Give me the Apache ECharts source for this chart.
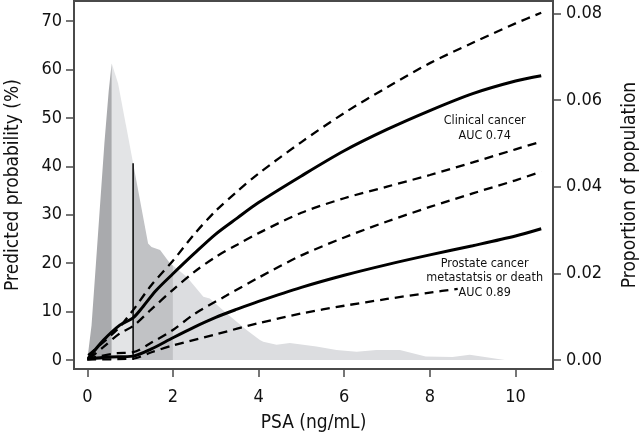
<!DOCTYPE html>
<html><head><meta charset="utf-8">
<script src="https://cdn.jsdelivr.net/npm/echarts@6/dist/echarts.min.js"></script>
<style>html,body{margin:0;padding:0;background:#fff}#c{width:640px;height:433px}</style>
</head><body><div id="c"></div>
<script>
// ---- data ----
var xTicks = [0, 2, 4, 6, 8, 10];
var probTicks = [0, 10, 20, 30, 40, 50, 60, 70];
var propTicks = [0, 0.02, 0.04, 0.06, 0.08];

// PSA distribution (proportion of population)
var distribution = [
  [0, 0], [0.1, 0.008], [0.2, 0.022], [0.3, 0.036], [0.4, 0.05], [0.5, 0.062], [0.57, 0.0685],
  [0.72, 0.0638], [1.07, 0.0454], [1.42, 0.0269], [1.5, 0.0261], [1.7, 0.0254], [1.93, 0.0223],
  [2.0, 0.0218], [2.32, 0.0192], [2.71, 0.0146], [2.86, 0.0142], [3.25, 0.0108], [3.72, 0.0069],
  [4.03, 0.0046], [4.11, 0.0042], [4.42, 0.0035], [4.73, 0.0039], [5.35, 0.0031], [5.82, 0.0023],
  [6.29, 0.0019], [6.75, 0.0023], [7.3, 0.0023], [7.9, 0.0008], [8.53, 0.0007], [8.93, 0.0012],
  [9.4, 0.0005], [9.75, 0]
];
var bandDark1 = [0, 0.57];
var bandLight1 = [0.57, 1.07];
var bandDark2 = [1.07, 2.0];
var bandLight2 = [2.0, 9.75];
var cutoffLine = [[1.07, 0], [1.07, 0.0454]];

// Clinical cancer (AUC 0.74)
var clinical = [[0.02, 0.3], [0.38, 4.1], [0.76, 7.2], [1.07, 8.7], [1.3, 11], [1.6, 14.3], [2, 17.8], [2.5, 22], [3, 26], [3.5, 29.3], [4, 32.5], [5, 38], [6, 43.2], [7, 47.6], [8, 51.5], [9, 55], [10, 57.6], [10.6, 58.7]];
var clinicalUpper = [[0.02, 1.0], [0.69, 6.2], [1.07, 10.3], [1.5, 15.5], [2, 20.5], [2.5, 26], [3, 30.8], [3.5, 34.8], [4, 38.5], [5, 45], [6, 51], [7, 56.3], [8, 61.3], [9, 65.5], [10, 69.5], [10.6, 71.7]];
var clinicalLower = [[0.05, 0.3], [0.38, 2.7], [0.76, 5.5], [1.07, 7], [1.5, 10.5], [2, 14.5], [2.5, 18.2], [3, 21.3], [3.5, 23.8], [4, 26.2], [5, 30.4], [6, 33.4], [7, 35.8], [8, 38.2], [9, 40.8], [10, 43.5], [10.6, 45.1]];

// Prostate cancer metastasis or death (AUC 0.89)
var metastasis = [[0, 0.2], [0.5, 0.6], [1.07, 0.8], [1.5, 2.3], [2, 4.6], [2.5, 6.8], [3, 8.8], [3.5, 10.5], [4, 12.1], [5, 15.0], [6, 17.5], [7, 19.7], [8, 21.7], [9, 23.6], [10, 25.6], [10.6, 27.1]];
var metastasisUpper = [[0, 0.2], [0.3, 0.8], [0.7, 1.4], [1.07, 1.6], [1.5, 3.6], [2, 6.2], [2.5, 9.5], [3.25, 13.3], [4, 17], [5, 21.6], [6, 25.3], [7, 28.6], [8, 31.6], [9, 34.4], [10, 37.1], [10.6, 38.9]];
var metastasisLower = [[0, 0.1], [1.07, 0.3], [1.5, 1.6], [2, 3.0], [3, 5.3], [4, 7.6], [5, 9.6], [6, 11.2], [7, 12.6], [8, 13.9], [8.65, 14.7]];

var labelClinical = {coord: [9.28, 47.9], text: 'Clinical cancer\nAUC 0.74'};
var labelMet = {coord: [9.28, 16.9], text: 'Prostate cancer\nmetastatsis or death\nAUC 0.89'};

// ---- chart ----
var FONT = "'Liberation Sans Narrow', 'DejaVu Sans Condensed', 'Roboto Condensed', sans-serif";
var AX = '#4a4a4a';
function band(r) { return distribution.filter(function (p) { return p[0] >= r[0] && p[0] <= r[1]; }); }
function area(r, color) {
  return {type: 'line', xAxisIndex: 0, yAxisIndex: 1, data: band(r), symbol: 'none', silent: true,
    lineStyle: {width: 0}, areaStyle: {color: color, opacity: 1}, z: 1};
}
function curve(d, dashed) {
  return {type: 'line', yAxisIndex: 0, data: d, symbol: 'none', smooth: 0.3, silent: true, z: 3,
    lineStyle: {color: '#000', width: dashed ? 2.3 : 3, type: dashed ? [9, 6] : 'solid'}};
}
function note(l) {
  return {coord: l.coord, value: l.text, symbol: 'rect', symbolSize: 0,
    label: {show: true, position: 'inside', formatter: l.text, fontFamily: FONT, fontSize: 12.5, color: '#111',
      lineHeight: 14.5, align: 'center', verticalAlign: 'middle'}};
}
var chart = echarts.init(document.getElementById('c'), null, {renderer: 'canvas'});
var tickAxis = function (vals, fmt, margin) {
  return {
    axisLine: {show: true, onZero: false, lineStyle: {color: AX, width: 2}},
    axisTick: {show: true, length: 8, customValues: vals, lineStyle: {color: AX, width: 1.5}},
    axisLabel: {customValues: vals, formatter: fmt, fontFamily: FONT, fontSize: 18, color: '#111', margin: margin},
    splitLine: {show: false}
  };
};
var NAME = {fontFamily: FONT, fontSize: 19, color: '#111'};
var xa = tickAxis(xTicks, function (v) { return String(v); }, 19);
xa.type = 'value'; xa.min = -0.31; xa.max = 10.875;
xa.name = 'PSA (ng/mL)'; xa.nameLocation = 'middle'; xa.nameGap = 45; xa.nameTextStyle = NAME;
var ya = tickAxis(probTicks, function (v) { return String(v); }, 12);
ya.type = 'value'; ya.position = 'left'; ya.min = -1.86; ya.max = 74.13;
ya.name = 'Predicted probability (%)'; ya.nameLocation = 'middle'; ya.nameGap = 51; ya.nameTextStyle = NAME;
var yb = tickAxis(propTicks, function (v) { return v.toFixed(2); }, 13);
yb.type = 'value'; yb.position = 'right'; yb.min = -0.00208; yb.max = 0.08284;
yb.name = 'Proportion of population'; yb.nameLocation = 'middle'; yb.nameGap = 68; yb.nameRotate = 90;
yb.nameTextStyle = NAME;

var series = [
  area(bandLight2, '#dcdde0'),
  area(bandDark2, '#c1c2c5'),
  area(bandLight1, '#e3e4e6'),
  area(bandDark1, '#a9aaad'),
  {type: 'line', yAxisIndex: 1, data: cutoffLine, symbol: 'none', silent: true, z: 2,
    lineStyle: {color: '#000', width: 1.5}},
  curve(clinicalUpper, true), curve(clinicalLower, true), curve(clinical, false),
  curve(metastasisUpper, true), curve(metastasisLower, true), curve(metastasis, false),
  {type: 'scatter', yAxisIndex: 0, data: [], silent: true, z: 5,
    markPoint: {silent: true, data: [note(labelClinical), note(labelMet)]}}
];
chart.setOption({
  animation: false,
  backgroundColor: '#fff',
  grid: {left: 74, right: 87, top: 1, bottom: 64, containLabel: false, outerBoundsMode: 'none',
    show: true, borderColor: AX, borderWidth: 2, backgroundColor: 'transparent'},
  xAxis: xa,
  yAxis: [ya, yb],
  series: series
});
</script></body></html>
